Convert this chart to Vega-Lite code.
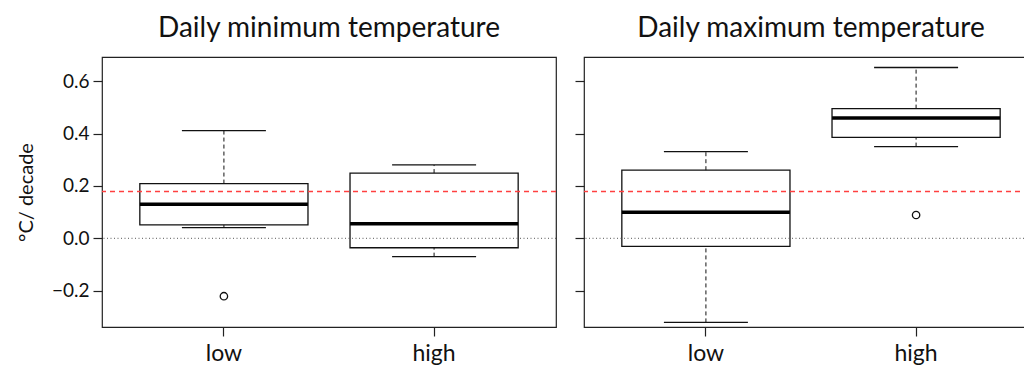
{
  "$schema": "https://vega.github.io/schema/vega-lite/v6.json",
  "padding": {"left": 15, "top": 14, "right": 0, "bottom": 0},
  "spacing": 15,
  "config": {
    "font": "Lato",
    "view": {"stroke": "#222222", "strokeWidth": 1.2},
    "title": {"fontSize": 28, "fontWeight": "normal", "color": "#111111", "anchor": "middle", "offset": 14, "baseline": "alphabetic"},
    "axis": {"grid": false, "domain": false, "tickColor": "#222222", "tickSize": 9, "tickWidth": 1.2, "labelColor": "#111111", "titleColor": "#111111", "titleFontWeight": "normal"}
  },
  "datasets": {
    "boxes": [
      {"panel": "min", "group": "low", "lo": 0.041, "q1": 0.051, "med": 0.130, "q3": 0.209, "hi": 0.411},
      {"panel": "min", "group": "high", "lo": -0.070, "q1": -0.036, "med": 0.056, "q3": 0.249, "hi": 0.280},
      {"panel": "max", "group": "low", "lo": -0.321, "q1": -0.031, "med": 0.099, "q3": 0.260, "hi": 0.331},
      {"panel": "max", "group": "high", "lo": 0.350, "q1": 0.385, "med": 0.459, "q3": 0.495, "hi": 0.652}
    ],
    "outliers": [
      {"panel": "min", "group": "low", "value": -0.221},
      {"panel": "max", "group": "high", "value": 0.089}
    ],
    "refs": [
      {"kind": "zero", "y": 0},
      {"kind": "mean", "y": 0.179}
    ]
  },
  "hconcat": [
    {
      "title": {"text": "Daily minimum temperature"},
      "width": 454,
      "height": 270,
      "encoding": {
        "x": {"field": "group", "type": "nominal", "sort": ["low", "high"],
              "scale": {"paddingInner": 0.2, "paddingOuter": 0.18},
              "axis": {"title": null, "labelAngle": 0, "labelFontSize": 23, "labelPadding": 6}}
      },
      "layer": [
        {
          "data": {"name": "boxes"},
          "transform": [{"filter": "datum.panel == 'min'"}],
          "layer": [
            {"mark": {"type": "rule", "strokeDash": [4, 3], "stroke": "#111111", "strokeWidth": 1},
             "encoding": {"y": {"field": "q3", "type": "quantitative",
                                "scale": {"domain": [-0.3385, 0.692], "nice": false, "zero": false},
                                "axis": {"values": [-0.2, 0, 0.2, 0.4, 0.6], "format": ".1f", "labelFontSize": 19, "labelPadding": 4, "title": "°C/ decade", "titleFontSize": 20, "titlePadding": 15}},
                          "y2": {"field": "hi"}}},
            {"mark": {"type": "rule", "strokeDash": [4, 3], "stroke": "#111111", "strokeWidth": 1},
             "encoding": {"y": {"field": "lo", "type": "quantitative"}, "y2": {"field": "q1"}}},
            {"mark": {"type": "tick", "size": 84, "thickness": 1.3, "color": "#111111", "opacity": 1},
             "encoding": {"y": {"field": "hi", "type": "quantitative"}}},
            {"mark": {"type": "tick", "size": 84, "thickness": 1.3, "color": "#111111", "opacity": 1},
             "encoding": {"y": {"field": "lo", "type": "quantitative"}}},
            {"mark": {"type": "bar", "fill": "white", "fillOpacity": 0, "stroke": "#111111", "strokeWidth": 1.3},
             "encoding": {"y": {"field": "q1", "type": "quantitative"}, "y2": {"field": "q3"}}},
            {"mark": {"type": "tick", "size": 168, "thickness": 3.5, "color": "#000000", "opacity": 1},
             "encoding": {"y": {"field": "med", "type": "quantitative"}}}
          ]
        },
        {
          "data": {"name": "outliers"},
          "transform": [{"filter": "datum.panel == 'min'"}],
          "mark": {"type": "point", "shape": "circle", "filled": false, "size": 55, "stroke": "#111111", "opacity": 1, "strokeWidth": 1.3},
          "encoding": {"y": {"field": "value", "type": "quantitative"}}
        },
        {
          "data": {"name": "refs"},
          "transform": [{"filter": "datum.kind == 'zero'"}],
          "mark": {"type": "rule", "stroke": "#555555", "strokeDash": [1, 2.5], "strokeWidth": 1},
          "encoding": {"y": {"field": "y", "type": "quantitative"}, "x": null}
        },
        {
          "data": {"name": "refs"},
          "transform": [{"filter": "datum.kind == 'mean'"}],
          "mark": {"type": "rule", "stroke": "#ff4040", "strokeOpacity": 1, "strokeDash": [5, 4], "strokeWidth": 1.5},
          "encoding": {"y": {"field": "y", "type": "quantitative"}, "x": null}
        }
      ]
    },
    {
      "title": {"text": "Daily maximum temperature"},
      "width": 454,
      "height": 270,
      "encoding": {
        "x": {"field": "group", "type": "nominal", "sort": ["low", "high"],
              "scale": {"paddingInner": 0.2, "paddingOuter": 0.18},
              "axis": {"title": null, "labelAngle": 0, "labelFontSize": 23, "labelPadding": 6}}
      },
      "layer": [
        {
          "data": {"name": "boxes"},
          "transform": [{"filter": "datum.panel == 'max'"}],
          "layer": [
            {"mark": {"type": "rule", "strokeDash": [4, 3], "stroke": "#111111", "strokeWidth": 1},
             "encoding": {"y": {"field": "q3", "type": "quantitative",
                                "scale": {"domain": [-0.3385, 0.692], "nice": false, "zero": false},
                                "axis": {"values": [-0.2, 0, 0.2, 0.4, 0.6], "labels": false, "title": null}},
                          "y2": {"field": "hi"}}},
            {"mark": {"type": "rule", "strokeDash": [4, 3], "stroke": "#111111", "strokeWidth": 1},
             "encoding": {"y": {"field": "lo", "type": "quantitative"}, "y2": {"field": "q1"}}},
            {"mark": {"type": "tick", "size": 84, "thickness": 1.3, "color": "#111111", "opacity": 1},
             "encoding": {"y": {"field": "hi", "type": "quantitative"}}},
            {"mark": {"type": "tick", "size": 84, "thickness": 1.3, "color": "#111111", "opacity": 1},
             "encoding": {"y": {"field": "lo", "type": "quantitative"}}},
            {"mark": {"type": "bar", "fill": "white", "fillOpacity": 0, "stroke": "#111111", "strokeWidth": 1.3},
             "encoding": {"y": {"field": "q1", "type": "quantitative"}, "y2": {"field": "q3"}}},
            {"mark": {"type": "tick", "size": 168, "thickness": 3.5, "color": "#000000", "opacity": 1},
             "encoding": {"y": {"field": "med", "type": "quantitative"}}}
          ]
        },
        {
          "data": {"name": "outliers"},
          "transform": [{"filter": "datum.panel == 'max'"}],
          "mark": {"type": "point", "shape": "circle", "filled": false, "size": 55, "stroke": "#111111", "opacity": 1, "strokeWidth": 1.3},
          "encoding": {"y": {"field": "value", "type": "quantitative"}}
        },
        {
          "data": {"name": "refs"},
          "transform": [{"filter": "datum.kind == 'zero'"}],
          "mark": {"type": "rule", "stroke": "#555555", "strokeDash": [1, 2.5], "strokeWidth": 1},
          "encoding": {"y": {"field": "y", "type": "quantitative"}, "x": null}
        },
        {
          "data": {"name": "refs"},
          "transform": [{"filter": "datum.kind == 'mean'"}],
          "mark": {"type": "rule", "stroke": "#ff4040", "strokeOpacity": 1, "strokeDash": [5, 4], "strokeWidth": 1.5},
          "encoding": {"y": {"field": "y", "type": "quantitative"}, "x": null}
        }
      ]
    }
  ]
}
